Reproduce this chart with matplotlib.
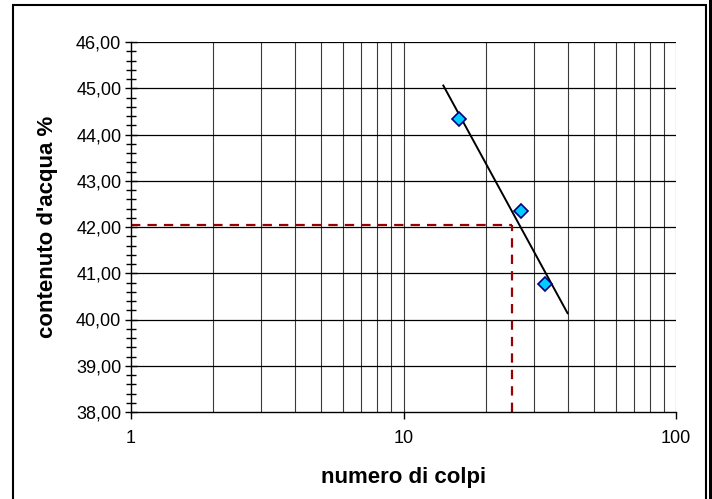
import matplotlib
matplotlib.use("Agg")
import matplotlib.pyplot as plt
import numpy as np
from matplotlib.ticker import FixedLocator, FuncFormatter, MultipleLocator, NullFormatter
from matplotlib.patches import Rectangle

plt.rcParams['font.family'] = ['Liberation Sans', 'DejaVu Sans']

# prove di Casagrande: numero di colpi e contenuto d'acqua
colpi = [16, 27, 33]
umidita = [44.33, 42.35, 40.77]

# limite liquido letto a 25 colpi
colpi_ll = 25
umidita_ll = 42.05

# estensione della linea di tendenza logaritmica
tendenza_da, tendenza_a = 14, 40

fig = plt.figure(figsize=(7.12, 4.99), dpi=100)
ax = fig.add_axes([131 / 712, 87 / 499, 545 / 712, 370 / 499])

# cornice esterna del grafico
fig.patches.append(Rectangle((13 / 712, -0.02), 693 / 712, 1.0 - 5 / 499 + 0.02,
                             transform=fig.transFigure, fill=False,
                             edgecolor='black', linewidth=1.5))
fig.patches.append(Rectangle((709 / 712, 0), 3 / 712, 1.0,
                             transform=fig.transFigure, facecolor='black',
                             edgecolor='none'))

ax.set_xscale('log')
ax.set_xlim(1, 100)
ax.set_ylim(38, 46)

# griglia: verticali su tutte le decadi, orizzontali ogni punto percentuale
minori_x = [k * 10 ** d for d in range(2) for k in range(2, 10)]
for xv in minori_x + [10, 100]:
    ax.axvline(xv, color='#3a3a3a', linewidth=0.8, zorder=1)
for yv in range(39, 47):
    ax.axhline(yv, color='black', linewidth=0.9, zorder=1)

# retta di regressione logaritmica sui punti
pendenza, intercetta = np.polyfit(np.log10(colpi), umidita, 1)
xt = np.array([tendenza_da, tendenza_a])
ax.plot(xt, pendenza * np.log10(xt) + intercetta, color='black',
        linewidth=1.4, zorder=3)

# linee tratteggiate del limite liquido
ax.plot([1, colpi_ll], [umidita_ll, umidita_ll], color='#990000',
        linewidth=1.6, dashes=(4.2, 3.2), zorder=2)
ax.plot([colpi_ll, colpi_ll], [38, umidita_ll], color='#990000',
        linewidth=1.6, dashes=(4.2, 3.2), zorder=2)

ax.plot(colpi, umidita, linestyle='none', marker='D', markersize=7,
        markerfacecolor='#00CCFF', markeredgecolor='#000080',
        markeredgewidth=1.2, zorder=4)

ax.xaxis.set_major_locator(FixedLocator([1, 10, 100]))
ax.xaxis.set_major_formatter(FuncFormatter(lambda v, p: f"{v:.0f}"))
ax.xaxis.set_minor_locator(FixedLocator(minori_x))
ax.xaxis.set_minor_formatter(NullFormatter())
ax.tick_params(axis='x', which='major', direction='out', length=5,
               width=1, labelsize=13, pad=8)
ax.tick_params(axis='x', which='minor', length=0)

ax.yaxis.set_major_locator(MultipleLocator(1))
ax.yaxis.set_minor_locator(MultipleLocator(0.2))
ax.yaxis.set_major_formatter(FuncFormatter(lambda v, p: f"{v:.2f}".replace('.', ',')))
ax.tick_params(axis='y', which='major', direction='inout', length=8,
               width=1, labelsize=13, pad=3)
ax.tick_params(axis='y', which='minor', direction='inout', length=7, width=1)

for lato in ['top', 'right']:
    ax.spines[lato].set_visible(False)
for lato in ['left', 'bottom']:
    ax.spines[lato].set_linewidth(1)

ax.set_xlabel('numero di colpi', fontsize=16, fontweight='bold', labelpad=14)
ax.set_ylabel("contenuto d'acqua %", fontsize=16, fontweight='bold', labelpad=13)

fig.savefig('out.png', dpi=100)
